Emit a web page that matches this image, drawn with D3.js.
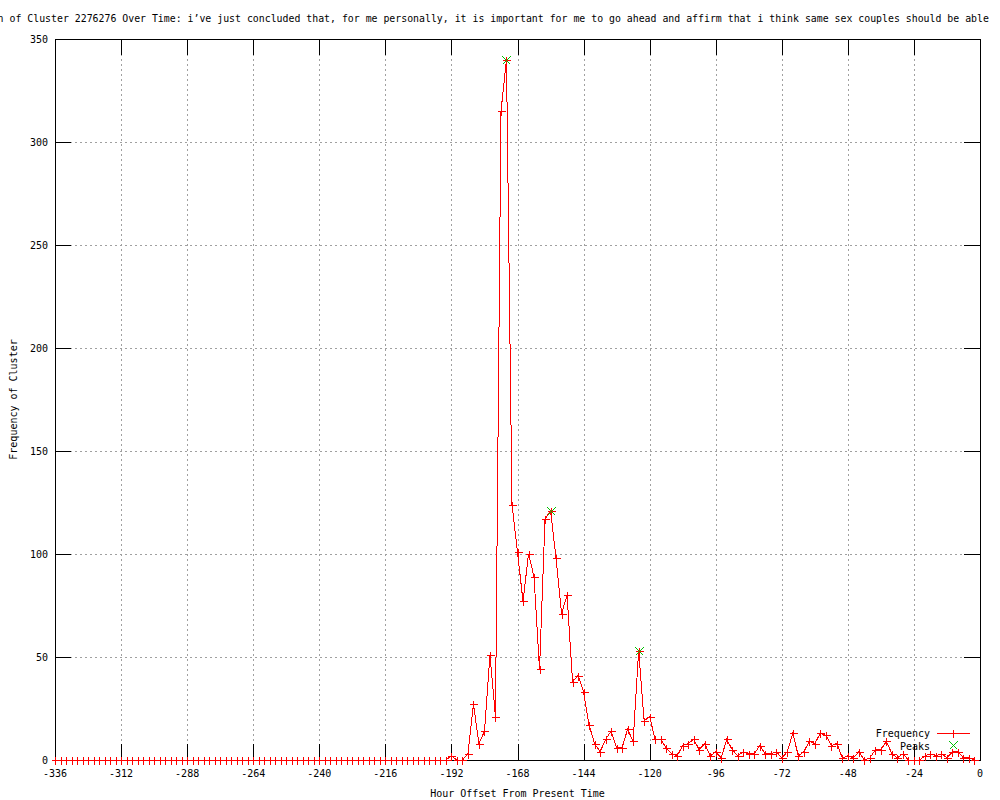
<!DOCTYPE html>
<html><head><meta charset="utf-8">
<script src="https://cdn.jsdelivr.net/npm/d3@7"></script>
<style>
body{margin:0;background:#fff}
svg{display:block}
text{font-family:"DejaVu Sans Mono","Liberation Mono",monospace;font-size:10px;fill:#000}
</style>
</head><body>
<svg id="c" width="1000" height="800"></svg>
<script>
const hours = [
-336,-334,-332,-330,-328,-326,-324,-322,-320,-318,-316,-314,
-312,-310,-308,-306,-304,-302,-300,-298,-296,-294,-292,-290,
-288,-286,-284,-282,-280,-278,-276,-274,-272,-270,-268,-266,
-264,-262,-260,-258,-256,-254,-252,-250,-248,-246,-244,-242,
-240,-238,-236,-234,-232,-230,-228,-226,-224,-222,-220,-218,
-216,-214,-212,-210,-208,-206,-204,-202,-200,-198,-196,-194,
-192,-190,-188,-186,-184,-182,-180,-178,-176,-174,-172,-170,
-168,-166,-164,-162,-160,-158,-156,-154,-152,-150,-148,-146,
-144,-142,-140,-138,-136,-134,-132,-130,-128,-126,-124,-122,
-120,-118,-116,-114,-112,-110,-108,-106,-104,-102,-100,-98,
-96,-94,-92,-90,-88,-86,-84,-82,-80,-78,-76,-74,
-72,-70,-68,-66,-64,-62,-60,-58,-56,-54,-52,-50,
-48,-46,-44,-42,-40,-38,-36,-34,-32,-30,-28,-26,
-24,-22,-20,-18,-16,-14,-12,-10,-8,-6,-4,-2
];
const frequency = [
0,0,0,0,0,0,0,0,0,0,0,0,
0,0,0,0,0,0,0,0,0,0,0,0,
0,0,0,0,0,0,0,0,0,0,0,0,
0,0,0,0,0,0,0,0,0,0,0,0,
0,0,0,0,0,0,0,0,0,0,0,0,
0,0,0,0,0,0,0,0,0,0,0,0,
2,0,0,3,27,8,14,51,21,315,340,124,
101,77,100,89,44,117,121,98,71,80,38,41,
33,17,8,4,10,14,6,6,15,9,53,19,
21,10,10,6,3,2,7,8,10,5,8,2,
4,1,10,5,2,4,3,3,7,3,3,4,
1,4,13,2,4,9,8,13,12,7,8,1,
2,1,4,0,1,5,5,9,3,1,3,0,
0,0,2,3,2,3,1,4,4,1,1,0
];
const peakHours = [-172, -156, -124];
const peakValues = [340, 121, 53];
const xTicks = [-336,-312,-288,-264,-240,-216,-192,-168,-144,-120,-96,-72,-48,-24,0];
const yTicks = [0,50,100,150,200,250,300,350];
const titleText = "Frequency Distribution of Cluster 2276276 Over Time: i\u2019ve just concluded that, for me personally, it is important for me to go ahead and affirm that i think same sex couples should be able";
const xLabel = "Hour Offset From Present Time";
const yLabel = "Frequency of Cluster";
const seriesNames = ["Frequency", "Peaks"];

const L = 55, R = 980, T = 39, B = 760;
const RED = "#ff0000", GREEN = "#00c000", GRID = "#a0a0a0";
const svg = d3.select("#c");
const x = d3.scaleLinear().domain([-336, 0]).range([L, R]);
const y = d3.scaleLinear().domain([0, 350]).range([B, T]);
const px = v => Math.round(v) + 0.5;

// grid
const g = svg.append("g").attr("shape-rendering", "crispEdges");
xTicks.filter(t => t > -336 && t < 0).forEach(t => {
  g.append("line").attr("x1", px(x(t))).attr("x2", px(x(t))).attr("y1", T).attr("y2", B)
    .attr("stroke", GRID).attr("stroke-dasharray", "2,3");
});
yTicks.filter(t => t > 0 && t < 350).forEach(t => {
  g.append("line").attr("x1", L).attr("x2", R).attr("y1", px(y(t))).attr("y2", px(y(t)))
    .attr("stroke", GRID).attr("stroke-dasharray", "2,3");
});

// ticks (inward, mirrored)
const tk = 16;
xTicks.forEach(t => {
  const xx = px(x(t));
  g.append("line").attr("x1", xx).attr("x2", xx).attr("y1", B).attr("y2", B - tk).attr("stroke", "#000");
  g.append("line").attr("x1", xx).attr("x2", xx).attr("y1", T).attr("y2", T + tk).attr("stroke", "#000");
  svg.append("text").attr("x", x(t)).attr("y", 777).attr("text-anchor", "middle").text(String(t));
});
yTicks.forEach(t => {
  const yy = px(y(t));
  g.append("line").attr("x1", L).attr("x2", L + tk).attr("y1", yy).attr("y2", yy).attr("stroke", "#000");
  g.append("line").attr("x1", R).attr("x2", R - tk).attr("y1", yy).attr("y2", yy).attr("stroke", "#000");
  svg.append("text").attr("x", 48).attr("y", y(t) + 4).attr("text-anchor", "end").text(String(t));
});

// frame
g.append("rect").attr("x", px(L)).attr("y", px(T)).attr("width", Math.round(R) - Math.round(L))
  .attr("height", Math.round(B) - Math.round(T)).attr("fill", "none").attr("stroke", "#000");

// data
const data = hours.map((h, i) => ({h, v: frequency[i]}));
const line = d3.line().x(d => x(d.h)).y(d => y(d.v));
svg.append("path").datum(data).attr("d", line).attr("fill", "none").attr("stroke", RED)
  .attr("stroke-width", 1).attr("shape-rendering", "crispEdges");

const s = 4;
const plus = (sel, cx, cy, col) => {
  sel.append("path").attr("d", `M${cx - s},${cy}H${cx + s}M${cx},${cy - s}V${cy + s}`)
    .attr("stroke", col).attr("fill", "none").attr("shape-rendering", "crispEdges");
};
const cross = (sel, cx, cy, col) => {
  sel.append("path").attr("d", `M${cx - s},${cy - s}L${cx + s},${cy + s}M${cx - s},${cy + s}L${cx + s},${cy - s}`)
    .attr("stroke", col).attr("fill", "none").attr("shape-rendering", "crispEdges");
};
const mk = svg.append("g");
data.forEach(d => plus(mk, px(x(d.h)), px(y(d.v)), RED));
peakHours.forEach((h, i) => cross(mk, px(x(h)), px(y(peakValues[i])), GREEN));

// legend
svg.append("text").attr("x", 930).attr("y", 737).attr("text-anchor", "end").text(seriesNames[0]);
svg.append("line").attr("x1", 937).attr("x2", 970).attr("y1", 733.5).attr("y2", 733.5)
  .attr("stroke", RED).attr("shape-rendering", "crispEdges");
plus(svg, 953.5, 733.5, RED);
svg.append("text").attr("x", 930).attr("y", 750).attr("text-anchor", "end").text(seriesNames[1]);
cross(svg, 953.5, 745.5, GREEN);

// axis labels
svg.append("text").attr("x", (L + R) / 2).attr("y", 797).attr("text-anchor", "middle").text(xLabel);
svg.append("text").attr("transform", `translate(17,${(T + B) / 2}) rotate(-90)`)
  .attr("text-anchor", "middle").text(yLabel);

// title (clipped by canvas as in reference)
const tt = svg.append("text").attr("y", 22).style("font-size", "9.87px").text(titleText);
const pre = tt.node().getSubStringLength(0, titleText.indexOf("n of Cluster"));
tt.attr("x", -2.4 - pre);
</script>
</body></html>
